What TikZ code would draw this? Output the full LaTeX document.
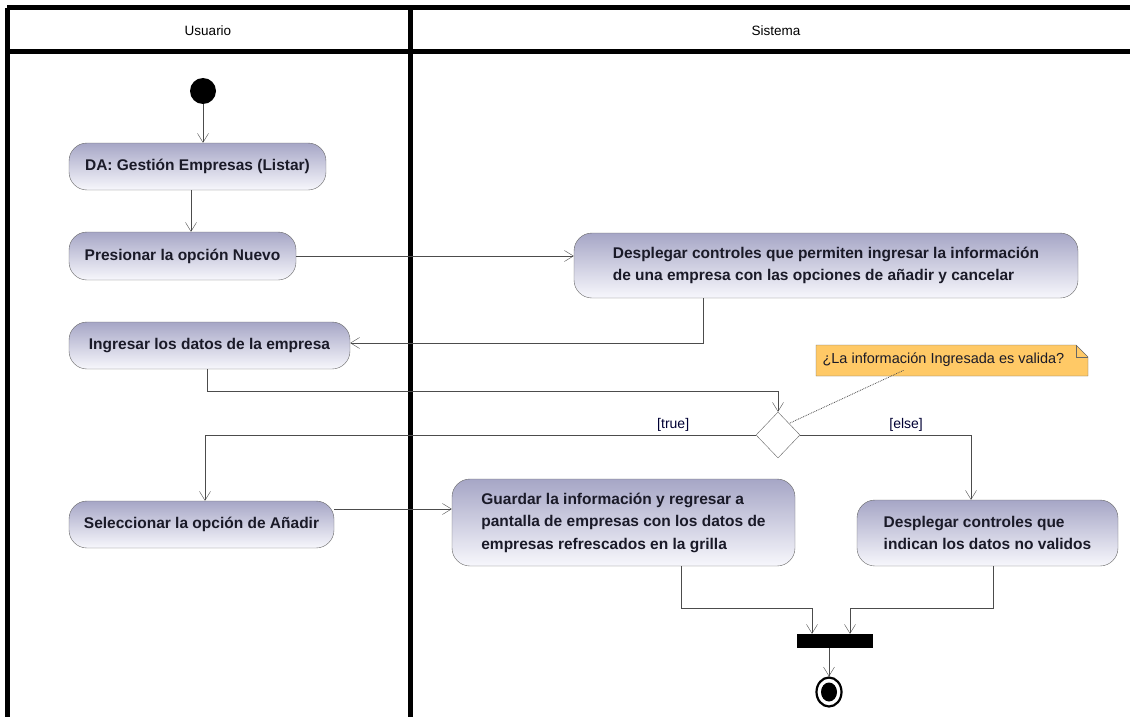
\documentclass[tikz,border=0pt]{standalone}
\usepackage{fontspec}
\setmainfont{Liberation Sans}
\usetikzlibrary{arrows.meta, positioning, shapes.geometric}

\definecolor{actTop}{RGB}{166,166,198}
\definecolor{actBot}{RGB}{247,247,252}
\definecolor{noteFill}{RGB}{255,201,102}
\definecolor{inkText}{RGB}{26,26,40}

\tikzset{
    activity/.style={draw=black!60, rounded corners=18pt, top color=actTop, bottom color=actBot,
        inner sep=0pt, align=left, text=inkText, font=\bfseries\fontsize{15.5}{22.5}\selectfont},
    flow/.style={draw=black!70, -{Straight Barb[length=9pt,width=11pt]}},
    lanerule/.style={line width=5pt},
    guard/.style={font=\fontsize{14}{16}\selectfont, text=black!80!blue},
}

\begin{document}
\begin{tikzpicture}[x=1pt, y=-1pt]
    \useasboundingbox (0,0) rectangle (1130,717);

    % Swimlanes
    \draw[lanerule] (7,8) -- (1130,8);
    \draw[lanerule] (7,52) -- (1130,52);
    \draw[lanerule] (7,8) -- (7,717);
    \draw[lanerule] (410,8) -- (410,717);
    \node[font=\fontsize{13.5}{16}\selectfont] (usuario) at (208,31) {Usuario};
    \node[font=\fontsize{13.5}{16}\selectfont] (sistema) at (776,31) {Sistema};

    % Usuario
    \node[circle, fill=black, minimum size=26pt, inner sep=0pt] (start) at (203,91) {};
    \node[activity, minimum width=257pt, minimum height=47pt] (da) at (197.5,166.5) {DA: Gestión Empresas (Listar)};
    \node[activity, minimum width=227pt, minimum height=48pt] (presionar) at (182.5,256) {Presionar la opción Nuevo};
    \node[activity, minimum width=281pt, minimum height=47pt] (ingresar) at (209.5,345.5) {Ingresar los datos de la empresa};
    \node[activity, minimum width=265pt, minimum height=47pt] (seleccionar) at (201.5,524.5) {Seleccionar la opción de Añadir};

    % Sistema
    \node[activity, minimum width=504pt, minimum height=65pt] (mostrar) at (826,265.5)
        {Desplegar controles que permiten ingresar la información\\de una empresa con las opciones de añadir y cancelar};
    \node[diamond, draw=black!60, fill=white, minimum width=44pt, minimum height=46pt, inner sep=0pt] (valida) at (778,435) {};
    \node[activity, minimum width=343pt, minimum height=87pt] (guardar) at (623.5,522.5)
        {Guardar la información y regresar a\\pantalla de empresas con los datos de\\empresas refrescados en la grilla};
    \node[activity, minimum width=261pt, minimum height=66pt] (invalidos) at (987.5,533)
        {Desplegar controles que\\indican los datos no validos};
    \node[fill=black, minimum width=76pt, minimum height=14pt, inner sep=0pt] (union) at (835,641) {};
    \node[ellipse, draw, line width=2.2pt, minimum width=25pt, minimum height=29pt, inner sep=0pt] (fin) at (829,692) {};
    \fill (fin) ellipse (8pt and 9.5pt);

    % Nota
    \filldraw[draw=black!60, fill=noteFill] (816,345) -- (1076,345) -- (1088,357) -- (1088,376) -- (816,376) -- cycle;
    \draw[black!60] (1076,345) -- (1076,357) -- (1088,357);
    \node[font=\fontsize{14.5}{16}\selectfont, text=inkText, anchor=west] (nota) at (819,360) {¿La información Ingresada es valida?};

    % Flujos
    \draw[flow] (start.south) -- (start.south |- da.north);
    \draw[flow] ([xshift=-6.5pt]da.south) -- ([xshift=-6.5pt]da.south |- presionar.north);
    \draw[flow] (presionar.east) -- (presionar.east -| mostrar.west);
    \draw[flow] ([xshift=-123pt]mostrar.south) |- ([yshift=2.5pt]ingresar.east);
    \draw[flow] ([xshift=-2.5pt]ingresar.south) -- ++(0,22) -| (valida.north);
    \draw[flow] (valida.west) -| node[guard, above, pos=0.075] {[true]} ([xshift=3.5pt]seleccionar.north);
    \draw[flow] (valida.east) -| node[guard, above, pos=0.31] {[else]} ([xshift=-16.5pt]invalidos.north);
    \draw[flow] ([yshift=15.5pt]seleccionar.east) -- ([yshift=15.5pt]seleccionar.east -| guardar.west);
    \draw[flow] ([xshift=57.5pt]guardar.south) -- ++(0,42) -| ([xshift=-23pt]union.north);
    \draw[flow] ([xshift=5.5pt]invalidos.south) -- ++(0,42) -| ([xshift=15pt]union.north);
    \draw[flow] ([xshift=-6pt]union.south) -- (fin.north);
    \draw[densely dotted, thick, black!70] ([xshift=-40pt]nota.south) -- (valida.north east);
\end{tikzpicture}
\end{document}
